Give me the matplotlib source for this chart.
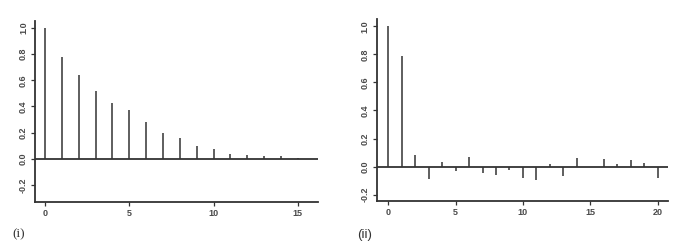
import matplotlib
matplotlib.use("Agg")
import matplotlib.pyplot as plt

# autocorrelations
lags_i = list(range(16))
acf_i = [1.0, 0.776, 0.637, 0.52, 0.43, 0.37, 0.28, 0.20, 0.156, 0.10,
         0.072, 0.04, 0.028, 0.023, 0.018, 0.008]

lags_ii = list(range(21))
acf_ii = [1.0, 0.787, 0.083, -0.088, 0.033, -0.028, 0.071, -0.043, -0.059, -0.024,
          -0.08, -0.097, 0.017, -0.064, 0.062, -0.005, 0.057, 0.021, 0.045, 0.028,
          -0.078]

yticks_i = [-0.2, 0.0, 0.2, 0.4, 0.6, 0.8, 1.0]
yticks_ii = [-0.2, 0.0, 0.2, 0.4, 0.6, 0.8, 1.0]
xticks_i = [0, 5, 10, 15]
xticks_ii = [0, 5, 10, 15, 20]

INK = "#333333"
plt.rcParams['font.family'] = ['Liberation Sans', 'DejaVu Sans']


def acf_panel(ax, lags, vals, xlim, ylim, xticks, yticks):
    ax.vlines(lags, 0, vals, color=INK, linewidth=1.1)
    ax.axhline(0, color=INK, linewidth=1.3)
    ax.set_xlim(*xlim)
    ax.set_ylim(*ylim)
    ax.set_xticks(xticks)
    ax.set_yticks(yticks)
    ax.set_xticklabels([str(t) for t in xticks])
    ax.set_yticklabels(["%.1f" % t for t in yticks], rotation=90, va="center")
    for s in ["top", "right"]:
        ax.spines[s].set_visible(False)
    for s in ["left", "bottom"]:
        ax.spines[s].set_color(INK)
        ax.spines[s].set_linewidth(1.3)
    ax.tick_params(length=3, width=0.9, color=INK, labelsize=6.5,
                   labelcolor="#4a4a4a", pad=2)
    for lbl in ax.get_xticklabels() + ax.get_yticklabels():
        lbl.set_fontweight("bold")


fig = plt.figure(figsize=(6.79, 2.46), dpi=100)
ax1 = fig.add_axes([0.0515, 0.179, 0.417, 0.736])
ax2 = fig.add_axes([0.5548, 0.183, 0.4295, 0.739])

acf_panel(ax1, lags_i, acf_i, (-0.6, 16.2), (-0.33, 1.054), xticks_i, yticks_i)
acf_panel(ax2, lags_ii, acf_ii, (-0.86, 20.8), (-0.245, 1.05), xticks_ii, yticks_ii)

fig.text(12 / 679, 1 - 234 / 246, "(i)", fontsize=9.5, color="#333333",
         family="Liberation Serif", ha="left", va="center")
fig.text(357 / 679, 1 - 235 / 246, "(ii)", fontsize=9.5, color="#333333",
         ha="left", va="center")

fig.savefig("out.png", dpi=100)
